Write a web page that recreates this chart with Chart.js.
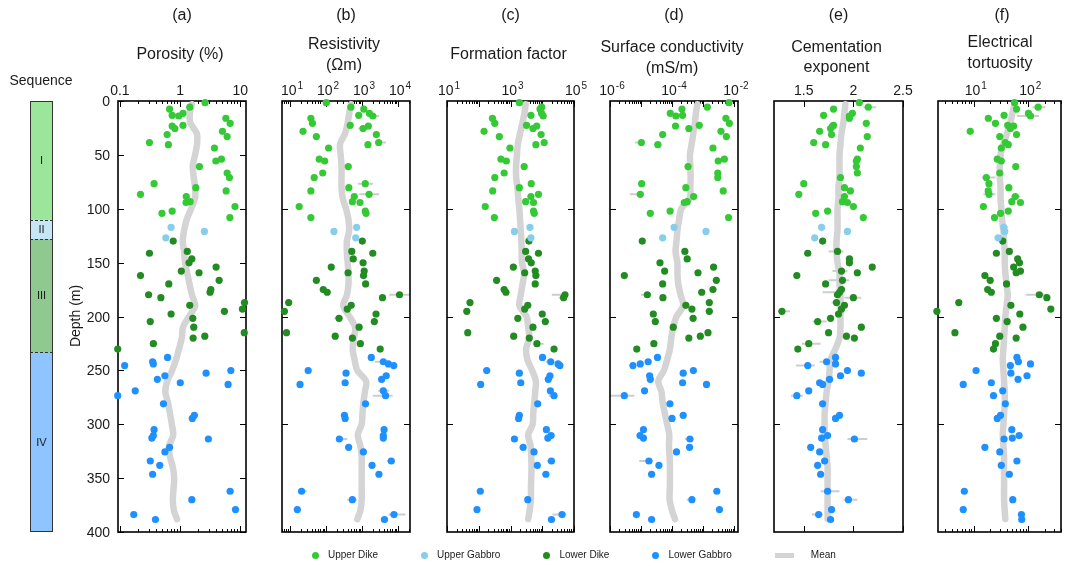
<!DOCTYPE html>
<html>
<head>
<meta charset="utf-8">
<title>Petrophysical properties vs depth</title>
<script src="https://cdn.jsdelivr.net/npm/chart.js@4.4.1/dist/chart.umd.min.js"></script>
<style>
  html, body { margin: 0; padding: 0; background: #fff; }
  #figure { position: relative; width: 1065px; height: 566px; overflow: hidden;
            font-family: "Liberation Sans", Arial, Helvetica, sans-serif; color: #1a1a1a; }
  #figure canvas { position: absolute; left: 0; top: 0; }
  .txt { position: absolute; white-space: nowrap; line-height: 1; transform: translate(-50%, -50%); }
  .txt.right { transform: translate(-100%, -50%); }
  .txt.rot { transform: translate(-50%, -50%) rotate(-90deg); }
  .title { font-size: 16px; }
  .tick { font-size: 14px; }
  .tick sup { font-size: 10px; position: relative; top: -6px; vertical-align: baseline; margin-left: 1px; }
  .seq { font-size: 11px; }
  #legend { position: absolute; left: 312px; top: 549px; display: flex; align-items: center; font-size: 10px; line-height: 12px; }
  #legend .item { display: flex; align-items: center; margin-right: 43px; }
  #legend .dot { width: 7px; height: 7px; border-radius: 50%; margin-right: 9px; }
  #legend .bar { width: 19px; height: 5px; background: #d4d4d4; margin-right: 17px; }
</style>
</head>
<body>
<div id="figure"></div>
<script>
// ---- data ---------------------------------------------------------------
const groups = ['Upper Dike', 'Upper Gabbro', 'Lower Dike', 'Lower Gabbro'];
const groupColors = ['#35c935', '#87ceeb', '#228b22', '#1e90ff'];

// sample depths (m)
const depthUD = [1.6, 5.7, 7.5, 11.4, 13.3, 13.9, 16, 20.7, 22.6, 23.2, 25.5, 28.1, 31.2, 33, 38.5, 40.5, 43.6, 54, 55.7, 60.9, 66.8, 71, 76.7, 80.4, 83.5, 86.6, 88.7, 93.4, 94.2, 98, 102.2, 104.2, 108.2];
const depthUG = [117.2, 121, 127];
const depthLD = [130, 139.6, 141.3, 146.6, 150.2, 154.1, 157.8, 159.4, 162, 166.4, 169.8, 175, 177.5, 179.8, 182.5, 187.1, 189.6, 193.1, 195.2, 197.7, 201.7, 204.7, 209.9, 215, 218.3, 220, 225.2, 230.2];
const depthLG = [238, 242, 244, 245.5, 250.2, 252.6, 255, 258.3, 261.5, 263, 269, 273.5, 281, 291.7, 294.6, 305, 310.5, 312.8, 313.7, 321.4, 325.7, 334.1, 338.1, 346.4, 362.2, 370, 379.2, 383.8, 388.4];
const meanDepth = [3, 10, 20, 30, 40, 50, 60, 70, 80, 90, 100, 110, 120, 130, 140, 150, 160, 170, 180, 190, 200, 210, 220, 230, 240, 250, 260, 270, 280, 290, 300, 310, 320, 330, 340, 350, 360, 370, 380, 388];

// (a) porosity, %
const poroUD = [2.61, 1.45, 0.67, 1.12, 0.74, 0.95, 5.78, 6.81, 1.12, 0.74, 0.82, 5.07, 0.61, 6.07, 0.31, 0.64, 3.73, 4.88, 3.94, 2.10, 6.07, 6.63, 0.37, 1.83, 5.84, 0.22, 1.27, 1.47, 1.26, 8.2, 0.74, 0.50, 6.74];
const poroUG = [0.71, 2.54, 0.58];
const poroLD = [0.77, 1.32, 0.31, 1.57, 1.41, 3.98, 1.05, 2.07, 0.22, 4.47, 0.65, 3.25, 3.16, 0.30, 0.48, 11.8, 1.45, 10.9, 5.47, 0.71, 1.63, 0.32, 1.69, 11.7, 2.58, 1.65, 0.36, 0.092];
const poroLG = [0.62, 0.35, 0.36, 0.12, 7.0, 2.71, 0.56, 0.42, 1.01, 6.3, 0.18, 0.092, 0.53, 1.73, 1.60, 0.37, 0.36, 0.34, 2.96, 0.67, 0.56, 0.32, 0.46, 0.35, 6.8, 1.57, 8.36, 0.17, 0.39];
const poroMean = [1.57, 1.47, 1.47, 1.9, 1.92, 1.78, 1.63, 1.68, 1.78, 1.78, 1.53, 1.29, 1.17, 1.11, 1.17, 1.21, 1.32, 1.44, 1.58, 1.78, 1.41, 1.12, 1.07, 0.96, 0.86, 0.74, 0.61, 0.57, 0.63, 0.68, 0.73, 0.77, 0.66, 0.68, 0.76, 0.8, 0.78, 0.76, 0.79, 0.89];

// (b) resistivity, ohm-m
const resUD = [102, 490, 1120, 1600, 810, 1990, 38, 42, 470, 1500, 1070, 23, 2500, 54, 2900, 1460, 118, 65, 92, 415, 81, 47, 1230, 430, 38, 1570, 610, 540, 880, 18, 1230, 1290, 38];
const resUG = [710, 166, 670];
const resLD = [1020, 520, 1990, 570, 1070, 140, 1150, 410, 1100, 54, 1260, 84, 108, 11000, 3700, 9.2, 500, 390, 7, 2450, 230, 2200, 830, 8, 180, 540, 900, 3200];
const resLG = [1810, 3900, 5400, 7600, 32, 360, 4700, 3500, 340, 19, 3900, 4500, 1250, 325, 340, 4100, 3900, 3900, 235, 425, 1090, 6500, 1900, 2950, 21, 540, 16, 7700, 4200];
const resMean = [490, 450, 400, 340, 245, 255, 270, 270, 270, 290, 360, 420, 440, 380, 380, 400, 420, 420, 380, 300, 450, 640, 600, 550, 620, 740, 1300, 1200, 1090, 1030, 980, 760, 900, 980, 980, 980, 980, 980, 900, 740];
// [depth, low, high]
const resErr = [[13.9, 1600, 3000], [25.5, 800, 1500], [38.5, 2300, 4600], [76.7, 760, 2040], [86.6, 840, 3000],
  [179.8, 5700, 21500], [201.7, 170, 300], [242, 2300, 5700], [269, 2800, 5700], [273.5, 2000, 7100],
  [313.7, 190, 390], [334.1, 4900, 8300], [362.2, 17, 29], [370, 390, 710], [383.8, 5400, 16000]];

// (c) formation factor
const ffUD = [1900, 9600, 8500, 9500, 4400, 10700, 270, 320, 3200, 6700, 5100, 147, 9200, 445, 11500, 6300, 960, 500, 740, 2700, 630, 320, 4500, 1900, 275, 7600, 4400, 3000, 5300, 160, 5300, 5600, 310];
const ffUG = [4100, 1330, 4400];
const ffLD = [3800, 3000, 7600, 3700, 4500, 1230, 6000, 2800, 6300, 365, 6000, 630, 720, 52000, 47000, 53, 3500, 2800, 42, 10000, 1700, 12500, 5100, 45, 1260, 3900, 6800, 23500];
const ffLG = [10200, 18500, 31500, 36000, 178, 1900, 17500, 15500, 2100, 115, 18000, 23500, 7200, 1900, 1800, 13500, 19000, 15000, 1330, 2500, 5500, 19500, 7000, 13000, 112, 3500, 88, 42000, 19500];
const ffMean = [3000, 2800, 2400, 2000, 1700, 1600, 1500, 1500, 1650, 1750, 1900, 2000, 2100, 2200, 2250, 2300, 2700, 2400, 2100, 1900, 3200, 3600, 3900, 3100, 3400, 4800, 6300, 6000, 5600, 5200, 5000, 3600, 4300, 4500, 4600, 4500, 4400, 4400, 4000, 3600];
const ffErr = [[179.8, 20000, 52000], [182.5, 33000, 52000], [225.2, 5000, 11000], [242, 13000, 24000],
  [273.5, 16000, 28000], [310.5, 13000, 22000], [334.1, 14000, 24000], [383.8, 21000, 58000]];

// (d) surface conductivity, mS/m (null = off scale)
const scUD = [6.9e-3, 1.38e-3, 2.1e-4, 8.8e-5, 2.2e-4, 1.34e-4, 5.5e-3, 7.1e-3, 7.6e-4, 1.3e-4, 3.5e-4, 3.8e-3, 5e-5, 5.7e-3, 1.03e-5, 3.5e-5, 2.1e-3, 4.9e-3, 3.1e-3, 3.3e-4, 3e-3, 3e-3, 1.05e-5, 2.8e-4, 4.5e-3, 9.5e-6, 5e-4, 3.1e-4, 2.5e-4, null, 8.7e-5, 2e-5, 6.7e-3];
const scUG = [1.17e-4, 1.25e-3, 5e-5];
const scLD = [1.1e-5, 2.6e-4, null, 3.1e-4, 4.1e-5, 2.2e-3, 5.8e-5, 6.9e-4, 2.9e-6, 2.7e-3, 5e-5, 2.1e-3, 9.1e-4, 1.6e-5, 5.1e-5, 1.6e-3, 2.8e-4, 4.4e-4, 1.6e-3, 2.5e-5, 4.8e-4, 2.9e-5, 1.1e-4, 1.45e-3, 8.2e-4, 3.5e-4, 2.6e-5, 7.3e-6];
const scLG = [3.4e-5, 1.7e-5, 9.5e-6, 5.5e-6, 4.9e-4, 2.3e-4, 1.9e-5, 2e-5, 2.2e-4, 1.3e-3, 1.3e-5, 2.9e-6, 8.6e-5, 2.3e-4, 1e-4, 1.2e-5, 9.3e-6, 1.2e-5, 3.8e-4, 3.7e-4, 1.4e-4, 1.8e-5, 3.8e-5, 2.2e-5, 2.8e-3, 4.4e-4, 3.4e-3, 7.1e-6, 2.2e-5];
const scMean = [6.6e-4, 6e-4, 5.5e-4, 4.9e-4, 4.3e-4, 3.8e-4, 3.9e-4, 4e-4, 3.9e-4, 3.8e-4, 2e-4, 1.7e-4, 1.5e-4, 1.4e-4, 1.3e-4, 1.5e-4, 1.5e-4, 1.6e-4, 1.9e-4, 2.3e-4, 1.4e-4, 1.1e-4, 9.5e-5, 8.6e-5, 7e-5, 5.5e-5, 3.6e-5, 4.6e-5, 5e-5, 5.9e-5, 7e-5, 8.2e-5, 8e-5, 8.4e-5, 8.6e-5, 8.6e-5, 8.5e-5, 8.4e-5, 1e-4, 1.25e-4];
const scErr = [[38.5, 6.4e-6, 1.3e-5], [40.5, 2.6e-5, 4.6e-5], [86.6, 4.4e-6, 1.2e-5], [179.8, 1e-5, 1.95e-5],
  [273.5, 1e-6, 6.1e-6], [313.7, 2.6e-4, 5e-4], [334.1, 8.8e-6, 2.5e-5], [370, 3e-4, 5.2e-4]];

// (e) cementation exponent
const cemUD = [2.06, 2.15, 1.80, 1.99, 1.70, 1.96, 1.96, 2.13, 1.80, 1.79, 1.77, 1.66, 1.78, 2.14, 1.60, 1.72, 2.07, 2.04, 2.03, 2.03, 2.04, 1.87, 1.50, 1.91, 1.97, 1.45, 1.91, 1.89, 1.94, 2.0, 1.74, 1.62, 2.10];
const cemUG = [1.68, 1.94, 1.61];
const cemLD = [1.69, 1.84, 1.54, 1.96, 1.96, 2.19, 1.88, 2.04, 1.43, 1.89, 1.72, 1.88, 1.86, 1.84, 2.0, 1.83, 1.91, 1.88, 1.28, 1.85, 1.77, 1.64, 2.08, 1.75, 1.93, 2.01, 1.55, 1.44];
const cemLG = [1.82, 1.73, 1.82, 1.54, 1.94, 2.08, 1.87, 1.76, 1.66, 1.69, 1.55, 1.43, 1.69, 1.86, 1.82, 1.69, 1.74, 1.68, 2.01, 1.57, 1.66, 1.71, 1.64, 1.67, 1.74, 1.95, 1.78, 1.65, 1.77];
const cemMean = [1.92, 1.91, 1.90, 1.88, 1.87, 1.86, 1.86, 1.86, 1.85, 1.85, 1.84, 1.84, 1.84, 1.83, 1.83, 1.84, 1.86, 1.86, 1.87, 1.87, 1.87, 1.87, 1.86, 1.82, 1.77, 1.76, 1.75, 1.73, 1.72, 1.71, 1.71, 1.71, 1.72, 1.73, 1.74, 1.74, 1.74, 1.74, 1.74, 1.74];
const cemErr = [[5.7, 2.10, 2.23], [139.6, 1.75, 1.90], [157.8, 1.79, 1.94], [166.4, 1.75, 1.96], [177.5, 1.69, 1.88],
  [182.5, 1.91, 2.08], [187.1, 1.78, 1.88], [195.2, 1.24, 1.36], [204.7, 1.59, 1.73], [225.2, 1.48, 1.67],
  [242, 1.66, 1.81], [245.5, 1.42, 1.61], [273.5, 1.37, 1.49], [313.7, 1.94, 2.14], [362.2, 1.67, 1.86],
  [370, 1.90, 2.04], [383.8, 1.58, 1.69]];

// (f) electrical tortuosity
const tortUD = [56, 152, 61, 101, 36, 110, 18.5, 25, 42, 54, 47, 8.6, 61, 30, 38, 43, 32, 27, 32, 59, 30, 17, 19, 44, 18.4, 19, 58, 50, 72, 15, 43, 31, 24];
const tortUG = [35.5, 37, 28];
const tortLD = [34, 45, 26, 64, 69, 54, 72, 60, 16, 20, 40, 18, 21, 160, 220, 5.3, 48, 260, 2.1, 70, 26, 41, 80, 4.5, 30, 60, 25, 23];
const tortLG = [62, 66, 110, 47, 11, 48, 95, 65, 21, 6.4, 34, 23, 38, 31, 27, 50, 68, 51, 36, 16, 30, 62, 32, 45, 6.7, 52, 6.4, 75, 76];
const tortMean = [56, 52, 47, 41, 35, 31, 30, 30, 31, 31, 32, 33, 35, 36, 37, 37, 38, 40, 42, 40, 38, 37, 36, 35, 34, 35, 36, 37, 37, 36, 35, 34, 35, 36, 36, 36, 36, 36, 37, 38];
const tortErr = [[5.7, 120, 207], [13.9, 62, 158], [71, 14, 25], [86.6, 15, 25], [88.7, 48, 72],
  [117.2, 30, 42], [126.8, 24, 34], [179.8, 90, 220]];

// tick values
const depthTicks = [0, 50, 100, 150, 200, 250, 300, 350, 400];
const depthTicksInner = [100, 200, 300];
const poroTicks = [0.1, 1, 10];
const resTicks = [1e1, 1e2, 1e3, 1e4];
const ffTicks = [1e1, 1e3, 1e5];
const scTicks = [1e-6, 1e-4, 1e-2];
const cemTicks = [1.5, 2, 2.5];
const tortTicks = [1e1, 1e2];

// lithostratigraphic sequence column
const seqNames = ['I', 'II', 'III', 'IV'];
const seqTop = [0, 110, 128, 233];
const seqBottom = [110, 128, 233, 400];
const seqColors = ['#9be69b', '#c6e6f6', '#8fc98f', '#8ec4ff'];

// ---- layout ---------------------------------------------------------------
const W = 1065, H = 566;
const PLOT_TOP = 101, PLOT_BOTTOM = 532;
const fig = document.getElementById('figure');
const groupDepths = [depthUD, depthUG, depthLD, depthLG];

const panels = [
  { letter: '(a)', title: ['Porosity (%)'], titleY: [54], left: 118, right: 246,
    type: 'logarithmic', min: 0.093, max: 12.5, ticks: poroTicks, fmt: 'plain', yTicks: depthTicks,
    values: [poroUD, poroUG, poroLD, poroLG], mean: poroMean, err: [] },
  { letter: '(b)', title: ['Resistivity', '(\u03a9m)'], titleY: [44, 65], left: 282, right: 410,
    type: 'logarithmic', min: 6, max: 21500, ticks: resTicks, fmt: 'pow', yTicks: depthTicksInner,
    values: [resUD, resUG, resLD, resLG], mean: resMean, err: resErr },
  { letter: '(c)', title: ['Formation factor'], titleY: [54], left: 447, right: 574,
    type: 'logarithmic', min: 10, max: 1e5, ticks: ffTicks, fmt: 'pow', yTicks: depthTicksInner,
    values: [ffUD, ffUG, ffLD, ffLG], mean: ffMean, err: ffErr },
  { letter: '(d)', title: ['Surface conductivity', '(mS/m)'], titleY: [47, 68], left: 610, right: 738,
    type: 'logarithmic', min: 1e-6, max: 1.35e-2, ticks: scTicks, fmt: 'pow', yTicks: depthTicksInner,
    values: [scUD, scUG, scLD, scLG], mean: scMean, err: scErr },
  { letter: '(e)', title: ['Cementation', 'exponent'], titleY: [47, 67], left: 774, right: 903,
    type: 'linear', min: 1.2, max: 2.5, ticks: cemTicks, fmt: 'plain', yTicks: depthTicksInner,
    values: [cemUD, cemUG, cemLD, cemLG], mean: cemMean, err: cemErr },
  { letter: '(f)', title: ['Electrical', 'tortuosity'], titleY: [42, 63], left: 938, right: 1066,
    type: 'logarithmic', min: 2.2, max: 400, ticks: tortTicks, fmt: 'pow', yTicks: depthTicksInner,
    values: [tortUD, tortUG, tortLD, tortLG], mean: tortMean, err: tortErr }
];

function addText(html, x, y, cls) {
  const d = document.createElement('div');
  d.className = 'txt ' + (cls || '');
  d.innerHTML = html;
  d.style.left = x + 'px';
  d.style.top = y + 'px';
  fig.appendChild(d);
  return d;
}

function makeCanvas() {
  const c = document.createElement('canvas');
  c.width = W;
  c.height = H;
  fig.appendChild(c);
  return c;
}

function toPoints(depths, values) {
  const pts = [];
  depths.forEach((d, i) => {
    if (values[i] != null) pts.push({ x: values[i], y: d });
  });
  return pts;
}

function logTicks(min, max) {
  const major = [], minor = [];
  for (let e = Math.floor(Math.log10(min)); e <= Math.ceil(Math.log10(max)); e++) {
    for (let k = 1; k < 10; k++) {
      const v = k * Math.pow(10, e);
      if (v < min * 0.999 || v > max * 1.001) continue;
      (k === 1 ? major : minor).push(v);
    }
  }
  return { major, minor };
}

function tickLabel(v, fmt) {
  if (fmt === 'pow') return '10<sup>' + Math.round(Math.log10(v)) + '</sup>';
  return String(v);
}

// box with inward ticks, plus the grey horizontal error bars under the samples
const framePlugin = {
  id: 'frame',
  beforeDatasetsDraw(chart, args, opts) {
    const { ctx, chartArea: a, scales: { x, y } } = chart;
    ctx.save();
    ctx.strokeStyle = '#cdcdcd';
    ctx.lineWidth = 2;
    ctx.beginPath();
    opts.err.forEach(([d, lo, hi]) => {
      const py = y.getPixelForValue(d);
      ctx.moveTo(x.getPixelForValue(lo), py);
      ctx.lineTo(x.getPixelForValue(hi), py);
    });
    ctx.stroke();

    ctx.strokeStyle = '#000';
    ctx.lineWidth = 1;
    ctx.beginPath();
    const tick = (list, len) => list.forEach(v => {
      const px = Math.round(x.getPixelForValue(v)) + 0.5;
      ctx.moveTo(px, a.top); ctx.lineTo(px, a.top + len);
      ctx.moveTo(px, a.bottom); ctx.lineTo(px, a.bottom - len);
    });
    tick(opts.xMajor, 6);
    tick(opts.xMinor, 3);
    opts.yMajor.forEach(v => {
      const py = Math.round(y.getPixelForValue(v)) + 0.5;
      ctx.moveTo(a.left, py); ctx.lineTo(a.left + 6, py);
      ctx.moveTo(a.right, py); ctx.lineTo(a.right - 6, py);
    });
    ctx.stroke();
    ctx.lineWidth = 1.6;
    ctx.strokeRect(a.left, a.top, a.right - a.left, a.bottom - a.top);
    ctx.restore();
  }
};

panels.forEach((p, idx) => {
  const canvas = makeCanvas();
  const t = p.type === 'logarithmic' ? logTicks(p.min, p.max) : { major: p.ticks, minor: [] };
  const datasets = groups.map((g, i) => ({
    label: g,
    data: toPoints(groupDepths[i], p.values[i]),
    backgroundColor: groupColors[i],
    borderWidth: 0,
    pointRadius: 3.6,
    clip: false
  }));
  // running mean, drawn underneath the samples
  datasets.push({
    label: 'Mean',
    data: toPoints(meanDepth, p.mean),
    showLine: true,
    borderColor: '#d4d4d4',
    borderWidth: 6.5,
    borderCapStyle: 'round',
    borderJoinStyle: 'round',
    pointRadius: 0,
    tension: 0.3,
    clip: false
  });

  const chart = new Chart(canvas, {
    type: 'scatter',
    data: { datasets },
    options: {
      responsive: false,
      animation: false,
      events: [],
      layout: { padding: { left: p.left, right: W - p.right, top: PLOT_TOP, bottom: H - PLOT_BOTTOM } },
      scales: {
        x: { type: p.type, min: p.min, max: p.max, display: false },
        y: { type: 'linear', min: 0, max: 400, reverse: true, display: false }
      },
      plugins: {
        legend: { display: false },
        tooltip: { enabled: false },
        frame: { xMajor: t.major, xMinor: t.minor, yMajor: p.yTicks, err: p.err }
      }
    },
    plugins: [framePlugin]
  });

  const cx = (p.left + p.right) / 2;
  addText(p.letter, cx, 15, 'title');
  p.title.forEach((line, i) => addText(line, cx - 2, p.titleY[i], 'title'));
  p.ticks.forEach(v => {
    const px = chart.scales.x.getPixelForValue(v);
    const d = addText(tickLabel(v, p.fmt), px, 90, 'tick');
    if (p.fmt === 'pow') d.style.marginLeft = '2px';
  });
  if (idx === 0) {
    depthTicks.forEach(v => addText(String(v), 110, chart.scales.y.getPixelForValue(v), 'tick right'));
  }
});

// ---- sequence column ------------------------------------------------------
const seqPlugin = {
  id: 'seqOutline',
  afterDatasetsDraw(chart) {
    const { ctx, chartArea: a, scales: { y } } = chart;
    ctx.save();
    ctx.strokeStyle = '#333';
    ctx.lineWidth = 1;
    ctx.setLineDash([3, 2]);
    ctx.beginPath();
    seqTop.slice(1).forEach(v => {
      const py = Math.round(y.getPixelForValue(v)) + 0.5;
      ctx.moveTo(a.left, py); ctx.lineTo(a.right, py);
    });
    ctx.stroke();
    ctx.setLineDash([]);
    ctx.strokeRect(a.left + 0.5, a.top + 0.5, a.right - a.left - 1, a.bottom - a.top - 1);
    ctx.restore();
  }
};

const seqChart = new Chart(makeCanvas(), {
  type: 'bar',
  data: {
    labels: ['Sequence'],
    datasets: seqNames.map((n, i) => ({
      label: n,
      data: [[seqTop[i], seqBottom[i]]],
      backgroundColor: seqColors[i],
      borderWidth: 0,
      barPercentage: 1,
      categoryPercentage: 1,
      grouped: false
    }))
  },
  options: {
    responsive: false,
    animation: false,
    events: [],
    layout: { padding: { left: 30, right: W - 53, top: PLOT_TOP, bottom: H - PLOT_BOTTOM } },
    scales: {
      x: { display: false },
      y: { display: false, min: 0, max: 400, reverse: true }
    },
    plugins: { legend: { display: false }, tooltip: { enabled: false } }
  },
  plugins: [seqPlugin]
});

addText('Sequence', 41, 80, 'tick');
seqNames.forEach((n, i) => {
  const py = seqChart.scales.y.getPixelForValue((seqTop[i] + seqBottom[i]) / 2);
  addText(n, 41.5, py, 'seq');
});
addText('Depth (m)', 75, 316, 'tick rot');

// ---- shared legend ----------------------------------------------------------
const legend = document.createElement('div');
legend.id = 'legend';
groups.forEach((g, i) => {
  const item = document.createElement('div');
  item.className = 'item';
  item.innerHTML = '<span class="dot" style="background:' + groupColors[i] + '"></span><span>' + g + '</span>';
  legend.appendChild(item);
});
const meanItem = document.createElement('div');
meanItem.className = 'item';
meanItem.innerHTML = '<span class="bar"></span><span>Mean</span>';
legend.appendChild(meanItem);
fig.appendChild(legend);
</script>
</body>
</html>
